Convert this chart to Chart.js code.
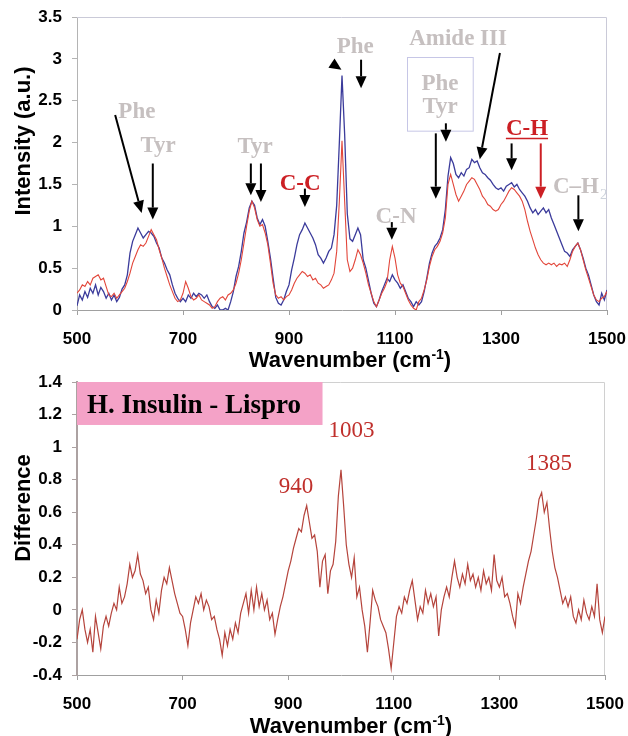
<!DOCTYPE html>
<html>
<head>
<meta charset="utf-8">
<script src="https://cdn.jsdelivr.net/npm/chart.js@4.4.0/dist/chart.umd.min.js"></script>
<style>
  body { margin: 0; background: #fff; }
  #wrap { position: relative; width: 628px; height: 736px; }
  canvas { position: absolute; left: 0; }
  #spectra { top: 0; }
  #difference { top: 340px; }
</style>
</head>
<body>
<div id="wrap">
  <canvas id="spectra" width="628" height="376"></canvas>
  <canvas id="difference" width="628" height="396"></canvas>
</div>
<script>
// wavenumber grid (cm-1), one reading every 5 cm-1
const waveStart = 500, waveStep = 5, waveCount = 201
const wavenumbers = []
for (let i = 0; i < waveCount; i++) wavenumbers.push(waveStart + i * waveStep)

// human insulin (blue)
const insulinSpectrum = [
  0.05, 0.18, 0.12, 0.22, 0.15, 0.26, 0.2, 0.3, 0.18, 0.27,
  0.22, 0.14, 0.2, 0.12, 0.18, 0.1, 0.15, 0.25, 0.3, 0.42,
  0.68, 0.82, 0.9, 0.98, 0.92, 0.86, 0.9, 0.94, 0.92, 0.88,
  0.8, 0.74, 0.62, 0.56, 0.48, 0.42, 0.3, 0.2, 0.14, 0.1,
  0.14, 0.1, 0.18, 0.14, 0.2, 0.16, 0.2, 0.18, 0.14, 0.18,
  0.1, 0.04, 0.02, 0.06, 0.0, 0.0, 0.02, 0.0, 0.1, 0.22,
  0.4, 0.52, 0.7, 0.92, 1.05, 1.22, 1.3, 1.25, 1.1, 1.02,
  1.08, 1.0, 0.82, 0.62, 0.38, 0.15, 0.08, 0.06, 0.12, 0.22,
  0.3, 0.48, 0.62, 0.78, 0.9, 0.96, 1.04, 0.98, 0.92, 0.86,
  0.78, 0.66, 0.62, 0.56, 0.62, 0.7, 0.74, 0.9, 1.25, 2.0,
  2.8, 2.1, 1.15, 0.85, 0.82, 0.9, 0.98, 0.9, 0.6, 0.5,
  0.35, 0.2, 0.08, 0.04, 0.12, 0.22, 0.3, 0.38, 0.34, 0.42,
  0.36, 0.32, 0.26, 0.3, 0.22, 0.14, 0.1, 0.04, 0.1, 0.06,
  0.1, 0.22, 0.38, 0.56, 0.68, 0.76, 0.8, 0.86, 0.96, 1.2,
  1.6, 1.82, 1.75, 1.62, 1.58, 1.64, 1.6, 1.68, 1.7, 1.8,
  1.76, 1.78, 1.7, 1.64, 1.62, 1.58, 1.55, 1.5, 1.46, 1.44,
  1.46, 1.42, 1.48, 1.5, 1.52, 1.47, 1.5, 1.44, 1.4, 1.36,
  1.3, 1.22, 1.16, 1.2, 1.14, 1.18, 1.22, 1.16, 1.2, 1.1,
  1.02, 0.94, 0.86, 0.78, 0.7, 0.68, 0.64, 0.72, 0.76, 0.8,
  0.72, 0.62, 0.5, 0.42, 0.3, 0.18, 0.1, 0.06, 0.2, 0.12,
  0.24
]

// lispro (red)
const lisproSpectrum = [
  0.2, 0.24, 0.3, 0.28, 0.34, 0.3, 0.38, 0.4, 0.42, 0.36,
  0.38, 0.28, 0.18, 0.16, 0.2, 0.14, 0.18, 0.22, 0.26, 0.34,
  0.44, 0.56, 0.64, 0.72, 0.78, 0.76, 0.8, 0.88, 0.96, 0.9,
  0.84, 0.72, 0.62, 0.5, 0.4, 0.3, 0.22, 0.14, 0.1, 0.12,
  0.2, 0.34, 0.26, 0.16, 0.12, 0.14, 0.18, 0.12, 0.1, 0.08,
  0.06, 0.02, 0.04, 0.1, 0.14, 0.16, 0.12, 0.18, 0.2, 0.24,
  0.32, 0.44, 0.6, 0.8, 1.0, 1.18, 1.3, 1.22, 1.08, 1.0,
  1.02, 0.92, 0.78, 0.56, 0.32, 0.18, 0.14, 0.16, 0.12, 0.16,
  0.18, 0.24, 0.32, 0.38, 0.42, 0.46, 0.44, 0.4, 0.42, 0.36,
  0.38, 0.32, 0.3, 0.26, 0.28, 0.3, 0.36, 0.44, 0.7, 1.3,
  2.02, 1.3, 0.6, 0.46, 0.5, 0.6, 0.72, 0.66, 0.56, 0.44,
  0.3, 0.2, 0.1, 0.04, 0.12, 0.2, 0.26, 0.34, 0.6, 0.76,
  0.62, 0.42, 0.32, 0.28, 0.2, 0.12, 0.06, 0.02, 0.0, 0.1,
  0.14, 0.24, 0.36, 0.52, 0.64, 0.72, 0.76, 0.82, 0.92, 1.1,
  1.5, 1.62, 1.5, 1.38, 1.3, 1.36, 1.42, 1.5, 1.54, 1.58,
  1.56, 1.5, 1.44, 1.36, 1.32, 1.26, 1.24, 1.2, 1.18, 1.2,
  1.26, 1.3, 1.36, 1.42, 1.46, 1.44, 1.4, 1.36, 1.3, 1.2,
  1.06, 0.94, 0.84, 0.74, 0.66, 0.6, 0.56, 0.54, 0.56, 0.54,
  0.56, 0.52, 0.55, 0.54, 0.56, 0.52, 0.6, 0.7, 0.76, 0.8,
  0.72, 0.6, 0.48, 0.38, 0.28, 0.18, 0.12, 0.1, 0.14, 0.16,
  0.22
]

// H. Insulin - Lispro
const differenceSpectrum = [
  -0.18, -0.06, 0.0, -0.12, -0.2, -0.12, -0.26, -0.04, -0.14, -0.24,
  -0.1, -0.04, -0.1, -0.02, 0.04, 0.0, 0.14, 0.04, 0.08, 0.16,
  0.28, 0.2, 0.24, 0.34, 0.22, 0.18, 0.1, 0.14, 0.0, -0.06,
  0.06, -0.02, 0.12, 0.2, 0.16, 0.26, 0.18, 0.1, 0.04, -0.02,
  -0.04, -0.12, -0.22, -0.08, 0.0, 0.08, 0.04, 0.1, 0.0, 0.06,
  0.02, -0.06, -0.04, -0.12, -0.18, -0.28, -0.14, -0.22, -0.12, -0.18,
  -0.08, -0.14, -0.02, 0.04, 0.1, -0.02, 0.12, 0.0, 0.14, 0.02,
  0.1, 0.0, 0.06, -0.06, -0.02, -0.15, -0.06, 0.02, 0.08, 0.16,
  0.24, 0.3, 0.38, 0.44, 0.5, 0.48, 0.58, 0.64, 0.54, 0.44,
  0.46, 0.36, 0.14, 0.3, 0.34, 0.1, 0.24, 0.28, 0.42, 0.7,
  0.86, 0.64, 0.4, 0.28, 0.2, 0.32, 0.08, 0.14, 0.0, -0.1,
  -0.26, -0.08, 0.12, 0.06, 0.02, -0.06, -0.1, -0.14, -0.24, -0.36,
  -0.2, -0.04, 0.02, -0.02, 0.08, 0.04, 0.12, 0.18, 0.06, -0.06,
  0.02, -0.02, 0.12, 0.04, 0.1, 0.02, 0.08, -0.16, 0.0, 0.08,
  0.14, 0.08, 0.2, 0.3, 0.2, 0.14, 0.22, 0.16, 0.28, 0.18,
  0.22, 0.14, 0.2, 0.12, 0.24, 0.16, 0.2, 0.12, 0.34, 0.18,
  0.14, 0.2, 0.08, 0.1, 0.04, -0.04, -0.1, 0.1, 0.04, 0.14,
  0.22, 0.3, 0.36, 0.46, 0.56, 0.68, 0.72, 0.6, 0.66, 0.5,
  0.36, 0.26, 0.2, 0.12, 0.04, 0.08, 0.02, 0.08, -0.04, -0.08,
  0.0, -0.06, 0.06, -0.02, -0.06, 0.02, -0.04, 0.16, -0.06, -0.14,
  -0.04
]

const spectraTicks = { min: 0, max: 3.5, step: 0.5 }
const differenceTicks = { min: -0.4, max: 1.4, step: 0.2 }

// band labels on the upper plot: [text, wavenumber, intensity, colour]
const GRAY = '#c6c0c0', RED = '#cc1f24', BLACK = '#000'
const bandLabels = [
  ['Phe', 613, 2.29, GRAY],
  ['Tyr', 653, 1.89, GRAY],
  ['Tyr', 836, 1.88, GRAY],
  ['C-C', 921, 1.43, RED],
  ['Phe', 1025, 3.07, GRAY],
  ['Amide III', 1219, 3.17, GRAY],
  ['Phe', 1185, 2.63, GRAY],
  ['Tyr', 1185, 2.35, GRAY],
  ['C-N', 1102, 1.04, GRAY],
  ['C-H', 1349, 2.09, RED]
]
// arrows: [from wavenumber, from intensity, to wavenumber, to intensity, colour]
const bandArrows = [
  [572, 2.33, 622, 1.16, BLACK],
  [643, 1.75, 643, 1.08, BLACK],
  [828, 1.75, 828, 1.37, BLACK],
  [847, 1.75, 847, 1.29, BLACK],
  [930, 1.45, 930, 1.23, BLACK],
  [980, 2.95, 999, 2.87, BLACK],
  [1036, 2.99, 1036, 2.65, BLACK],
  [1094, 1.05, 1094, 0.84, BLACK],
  [1177, 2.11, 1177, 1.33, BLACK],
  [1196, 2.23, 1196, 2.01, BLACK],
  [1298, 3.07, 1260, 1.80, BLACK],
  [1320, 1.99, 1320, 1.67, BLACK],
  [1375, 1.99, 1375, 1.33, RED],
  [1446, 1.37, 1446, 0.94, BLACK]
]
// peak positions on the difference plot: [text, wavenumber, difference]
const peakLabels = [
  ['940', 915, 0.72],
  ['1003', 1020, 1.06],
  ['1385', 1394, 0.86]
]

const tickFont = { family: 'Liberation Sans, Arial, sans-serif', size: 17, weight: 'bold' }
const titleFont = 'bold 22px "Liberation Sans", Arial, sans-serif'
const serifBold = 'bold 23px "Liberation Serif", "Times New Roman", serif'

function points(values) {
  return wavenumbers.map((w, i) => ({ x: w, y: values[i] }))
}

function fmt(v) {
  return String(+v.toFixed(1))
}

function arrow(ctx, x1, y1, x2, y2, color) {
  const a = Math.atan2(y2 - y1, x2 - x1)
  const head = 12, half = 5.5
  const bx = x2 - head * Math.cos(a), by = y2 - head * Math.sin(a)
  ctx.strokeStyle = color
  ctx.lineWidth = 2
  ctx.beginPath(); ctx.moveTo(x1, y1); ctx.lineTo(bx, by); ctx.stroke()
  ctx.fillStyle = color
  ctx.beginPath()
  ctx.moveTo(x2, y2)
  ctx.lineTo(bx + half * Math.sin(a), by - half * Math.cos(a))
  ctx.lineTo(bx - half * Math.sin(a), by + half * Math.cos(a))
  ctx.closePath(); ctx.fill()
}

function drawXTitle(ctx, cx, baseline) {
  ctx.save()
  ctx.fillStyle = '#000'
  ctx.textBaseline = 'alphabetic'
  ctx.font = titleFont
  const main = 'Wavenumber (cm', tail = ')'
  const wMain = ctx.measureText(main).width, wTail = ctx.measureText(tail).width
  ctx.font = 'bold 14px "Liberation Sans", Arial, sans-serif'
  const wSup = ctx.measureText('-1').width
  let x = cx - (wMain + wSup + wTail) / 2
  ctx.textAlign = 'left'
  ctx.font = titleFont
  ctx.fillText(main, x, baseline); x += wMain
  ctx.font = 'bold 14px "Liberation Sans", Arial, sans-serif'
  ctx.fillText('-1', x, baseline - 8); x += wSup
  ctx.font = titleFont
  ctx.fillText(tail, x, baseline)
  ctx.restore()
}

function drawYTitle(ctx, text, cx, cy) {
  ctx.save()
  ctx.translate(cx, cy)
  ctx.rotate(-Math.PI / 2)
  ctx.font = titleFont
  ctx.fillStyle = '#000'
  ctx.textAlign = 'center'
  ctx.textBaseline = 'middle'
  ctx.fillText(text, 0, 0)
  ctx.restore()
}

function frame(color) {
  return {
    id: 'frame',
    beforeDatasetsDraw(chart) {
      const { ctx, chartArea: a } = chart
      ctx.save()
      ctx.strokeStyle = color
      ctx.lineWidth = 1
      ctx.beginPath()
      ctx.moveTo(a.left, a.top + 0.5)
      ctx.lineTo(a.right - 0.5, a.top + 0.5)
      ctx.lineTo(a.right - 0.5, a.bottom)
      ctx.stroke()
      ctx.restore()
    }
  }
}

function axes(yTicks, yWidth, xHeight, xPad, axisColor, axisWidth) {
  return {
    x: {
      type: 'linear', min: 500, max: 1500,
      afterFit: s => { s.height = xHeight; s.paddingLeft = 0; s.paddingRight = 0 },
      grid: { drawOnChartArea: false, tickLength: 5, color: '#a0a0a0' },
      border: { color: '#a0a0a0' },
      ticks: { stepSize: 200, padding: xPad, color: '#000', font: tickFont, maxRotation: 0, callback: v => String(v) }
    },
    y: {
      min: yTicks.min, max: yTicks.max,
      afterFit: s => { s.width = yWidth; s.paddingTop = 0; s.paddingBottom = 0 },
      grid: { drawOnChartArea: false, tickLength: 5, color: axisColor },
      border: { color: axisColor, width: axisWidth },
      ticks: { stepSize: yTicks.step, padding: 10, color: '#000', font: tickFont, callback: fmt }
    }
  }
}

const spectraAnnotations = {
  id: 'spectraAnnotations',
  afterDatasetsDraw(chart) {
    const { ctx, scales: { x, y } } = chart
    ctx.save()
    // Phe / Tyr box
    ctx.strokeStyle = '#c6c6e6'
    ctx.lineWidth = 1
    const bl = x.getPixelForValue(1123), br = x.getPixelForValue(1247)
    const bt = y.getPixelForValue(3.02), bb = y.getPixelForValue(2.14)
    ctx.strokeRect(Math.round(bl) + 0.5, Math.round(bt) + 0.5, br - bl, bb - bt)

    ctx.font = serifBold
    ctx.textAlign = 'center'
    ctx.textBaseline = 'alphabetic'
    bandLabels.forEach(([t, w, v, c]) => {
      ctx.fillStyle = c
      ctx.fillText(t, x.getPixelForValue(w), y.getPixelForValue(v))
    })
    // underline under C-H
    const chW = ctx.measureText('C-H').width
    const chX = x.getPixelForValue(1349), chY = y.getPixelForValue(2.05)
    ctx.strokeStyle = RED
    ctx.lineWidth = 1.5
    ctx.beginPath(); ctx.moveTo(chX - chW / 2, chY); ctx.lineTo(chX + chW / 2, chY); ctx.stroke()

    // C–H2 with subscript
    ctx.textAlign = 'left'
    ctx.fillStyle = GRAY
    const cx = x.getPixelForValue(1398), cy = y.getPixelForValue(1.40)
    ctx.fillText('C\u2013H', cx, cy)
    const w2 = ctx.measureText('C\u2013H').width
    ctx.font = '15px "Liberation Serif", serif'
    ctx.fillStyle = '#cdd3dc'
    ctx.fillText('2', cx + w2 + 1, cy + 6)

    bandArrows.forEach(([w1, v1, w2b, v2, c]) => {
      arrow(ctx, x.getPixelForValue(w1), y.getPixelForValue(v1),
        x.getPixelForValue(w2b), y.getPixelForValue(v2), c)
    })
    ctx.restore()
  },
  afterDraw(chart) {
    const { ctx, chartArea: a } = chart
    drawYTitle(ctx, 'Intensity (a.u.)', 24, 141)
    drawXTitle(ctx, (a.left + a.right) / 2 + 8, 367)
  }
}

const differenceAnnotations = {
  id: 'differenceAnnotations',
  beforeDatasetsDraw(chart) {
    const { ctx, scales: { x, y } } = chart
    ctx.save()
    const l = x.getPixelForValue(500), r = x.getPixelForValue(965)
    const t = y.getPixelForValue(1.4), b = y.getPixelForValue(1.136)
    ctx.fillStyle = '#f4a2c7'
    ctx.fillRect(l, t, r - l, b - t)
    ctx.fillStyle = '#000'
    ctx.font = 'bold 27px "Liberation Serif", "Times New Roman", serif'
    ctx.textAlign = 'left'
    ctx.textBaseline = 'alphabetic'
    ctx.fillText('H. Insulin - Lispro', x.getPixelForValue(519), y.getPixelForValue(1.21))
    ctx.restore()
  },
  afterDatasetsDraw(chart) {
    const { ctx, scales: { x, y } } = chart
    ctx.save()
    ctx.font = '23px "Liberation Serif", "Times New Roman", serif'
    ctx.fillStyle = '#c0302c'
    ctx.textAlign = 'center'
    ctx.textBaseline = 'alphabetic'
    peakLabels.forEach(([t, w, v]) => {
      ctx.fillText(t, x.getPixelForValue(w), y.getPixelForValue(v))
    })
    ctx.restore()
  },
  afterDraw(chart) {
    const { ctx, chartArea: a } = chart
    drawYTitle(ctx, 'Difference', 24, 168)
    drawXTitle(ctx, (a.left + a.right) / 2 + 10, 393)
  }
}

const spectraChart = new Chart(document.getElementById('spectra'), {
  type: 'line',
  data: {
    datasets: [{
      label: 'H. Insulin',
      data: points(insulinSpectrum),
      borderColor: '#3b3b9b',
      borderWidth: 1.3,
      pointRadius: 0,
      order: 1
    }, {
      label: 'Lispro',
      data: points(lisproSpectrum),
      borderColor: '#e2463a',
      borderWidth: 1.1,
      pointRadius: 0,
      order: 0
    }]
  },
  options: {
    responsive: false,
    animation: false,
    devicePixelRatio: 1,
    layout: { padding: { top: 17, right: 21, left: 0, bottom: 0 } },
    plugins: { legend: { display: false }, tooltip: { enabled: false } },
    scales: axes(spectraTicks, 77, 66, 14, '#b4b4b4', 1)
  },
  plugins: [frame('#cacad8'), spectraAnnotations]
})

const differenceChart = new Chart(document.getElementById('difference'), {
  type: 'line',
  data: {
    datasets: [{
      label: 'H. Insulin - Lispro',
      data: points(differenceSpectrum),
      borderColor: '#b5443c',
      borderWidth: 1.2,
      pointRadius: 0
    }]
  },
  options: {
    responsive: false,
    animation: false,
    devicePixelRatio: 1,
    layout: { padding: { top: 42, right: 23, left: 0, bottom: 0 } },
    plugins: { legend: { display: false }, tooltip: { enabled: false } },
    scales: axes(differenceTicks, 77, 61, 14, '#aca2a2', 2)
  },
  plugins: [frame('#d0d0d0'), differenceAnnotations]
})
</script>
</body>
</html>
